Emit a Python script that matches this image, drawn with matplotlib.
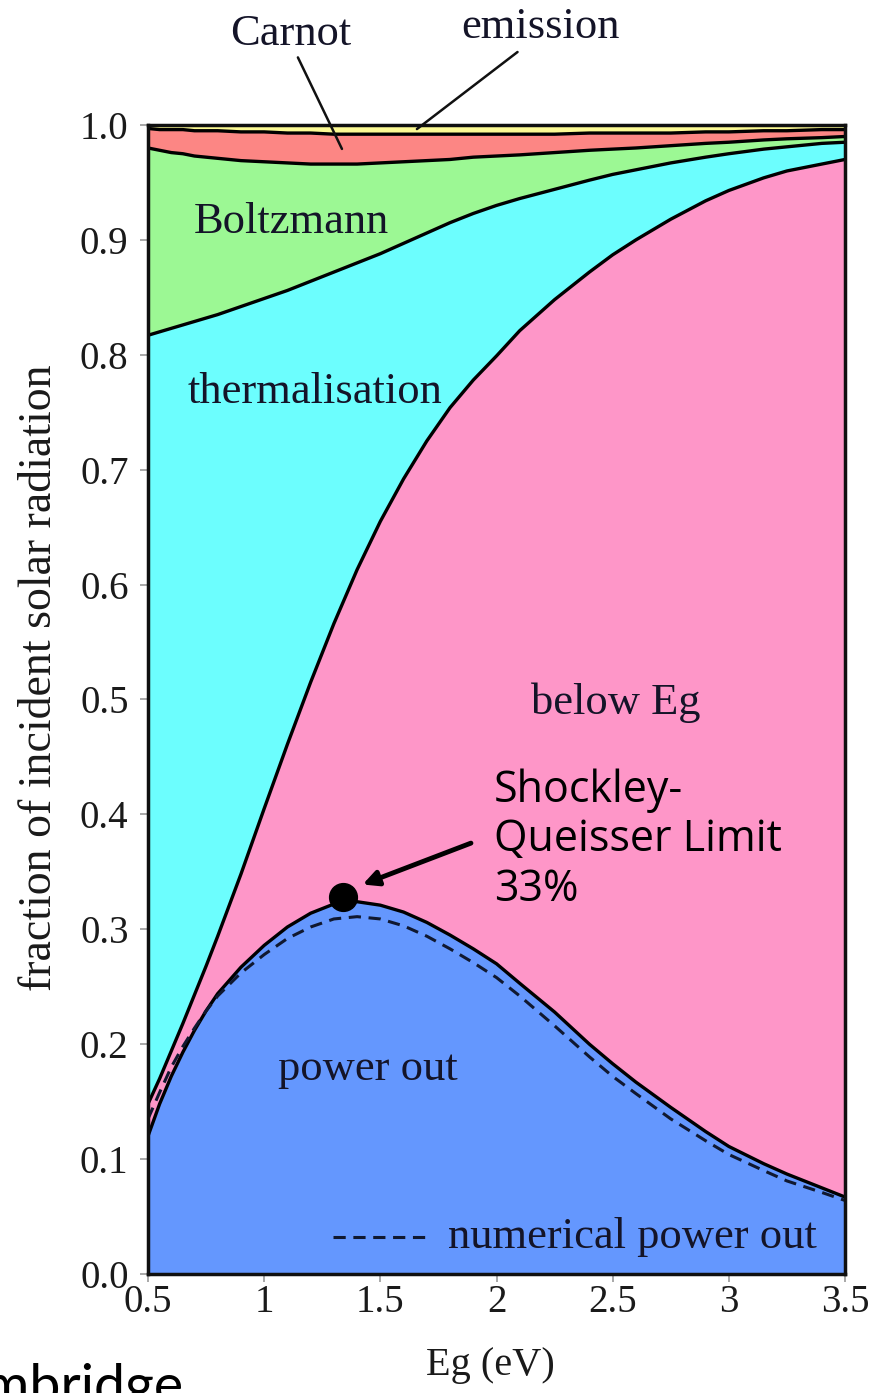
import matplotlib
matplotlib.use("Agg")
import matplotlib.pyplot as plt
import numpy as np

# ---- data ----
eg = [0.5, 0.55, 0.6, 0.65, 0.7, 0.75, 0.8, 0.9, 1.0, 1.1, 1.2, 1.3, 1.4, 1.5, 1.6,
      1.7, 1.8, 1.9, 2.0, 2.1, 2.25, 2.4, 2.5, 2.6, 2.75, 2.9, 3.0, 3.15, 3.25, 3.4, 3.5]

# cumulative boundaries (fraction of incident solar radiation)
power_out = [0.120, 0.148, 0.172, 0.193, 0.212, 0.229, 0.244, 0.267, 0.286, 0.302,
             0.314, 0.322, 0.324, 0.321, 0.315, 0.306, 0.295, 0.283, 0.270, 0.253,
             0.228, 0.200, 0.183, 0.167, 0.145, 0.124, 0.111, 0.096, 0.087, 0.075, 0.067]
numerical_power_out = [0.135, 0.158, 0.180, 0.198, 0.214, 0.229, 0.242, 0.262, 0.278,
                       0.292, 0.302, 0.309, 0.311, 0.309, 0.303, 0.294, 0.283, 0.271,
                       0.258, 0.242, 0.216, 0.189, 0.172, 0.157, 0.135, 0.116, 0.104,
                       0.090, 0.081, 0.071, 0.064]
below_eg_top = [0.148, 0.170, 0.194, 0.218, 0.243, 0.268, 0.294, 0.348, 0.405, 0.461,
                0.515, 0.566, 0.613, 0.655, 0.692, 0.725, 0.754, 0.778, 0.799, 0.821,
                0.848, 0.872, 0.887, 0.900, 0.918, 0.934, 0.943, 0.954, 0.960, 0.966, 0.970]
thermal_top = [0.817, 0.820, 0.823, 0.826, 0.829, 0.832, 0.835, 0.842, 0.849, 0.856,
               0.864, 0.872, 0.880, 0.888, 0.897, 0.906, 0.915, 0.923, 0.930, 0.936,
               0.944, 0.952, 0.957, 0.961, 0.967, 0.972, 0.975, 0.979, 0.981, 0.984, 0.985]
boltzmann_top = [0.980, 0.978, 0.976, 0.975, 0.973, 0.972, 0.971, 0.969, 0.968, 0.967,
                 0.966, 0.966, 0.966, 0.967, 0.968, 0.969, 0.970, 0.972, 0.973, 0.974,
                 0.976, 0.978, 0.979, 0.980, 0.982, 0.984, 0.985, 0.987, 0.988, 0.989, 0.990]
carnot_top = [0.997, 0.996, 0.996, 0.996, 0.995, 0.995, 0.995, 0.994, 0.994, 0.993,
              0.993, 0.992, 0.992, 0.992, 0.992, 0.992, 0.992, 0.992, 0.992, 0.992,
              0.992, 0.993, 0.993, 0.993, 0.993, 0.994, 0.994, 0.995, 0.995, 0.996, 0.996]
emission_top = [1.0] * len(eg)

sq_limit = (1.34, 0.328)

region_names = ["power out", "below Eg", "thermalisation", "Boltzmann", "Carnot", "emission"]
region_colors = ["#6497fe", "#fe96c8", "#6cfefe", "#9cf894", "#fc8684", "#fcfa94"]

xticks = [0.5, 1, 1.5, 2, 2.5, 3, 3.5]
xticklabels = ["0.5", "1", "1.5", "2", "2.5", "3", "3.5"]
yticks = [0.0, 0.1, 0.2, 0.3, 0.4, 0.5, 0.6, 0.7, 0.8, 0.9, 1.0]
yticklabels = ["0.0", "0.1", "0.2", "0.3", "0.4", "0.5", "0.6", "0.7", "0.8", "0.9", "1.0"]

# ---- figure ----
W, H = 871, 1393
fig = plt.figure(figsize=(W / 100, H / 100), dpi=100)
ax = fig.add_axes([148 / W, 1 - 1274 / H, (845 - 148) / W, (1274 - 125) / H])

serif = ["Liberation Serif", "DejaVu Serif"]
txtc = "#141428"

bounds = [np.zeros(len(eg)), power_out, below_eg_top, thermal_top, boltzmann_top,
          carnot_top, emission_top]
for i, c in enumerate(region_colors):
    ax.fill_between(eg, bounds[i], bounds[i + 1], color=c, lw=0, zorder=1)
for b in bounds[1:6]:
    ax.plot(eg, b, color="black", lw=2.4, zorder=3, solid_joinstyle="round")
ax.plot(eg, numerical_power_out, color="#101830", lw=2.2, ls=(0, (4, 2.5)), zorder=3)

ax.set_xlim(0.5, 3.5)
ax.set_ylim(0.0, 1.0)
ax.set_xticks(xticks)
ax.set_xticklabels(xticklabels)
ax.set_yticks(yticks)
ax.set_yticklabels(yticklabels)
for s in ax.spines.values():
    s.set_linewidth(2.5)
    s.set_color("#101010")
    s.set_zorder(5)
ax.tick_params(direction="out", length=6, width=1.2, color="#999999",
               labelsize=28, labelcolor="#1a1a1a")
ax.tick_params(axis="x", pad=1)
ax.tick_params(axis="y", pad=8)
for lab in ax.get_xticklabels() + ax.get_yticklabels():
    lab.set_family(serif)

fig.text(40 / W, 1 - 678 / H, "fraction of incident solar radiation", rotation=90,
         ha="center", va="center", fontsize=33, family=serif, color="#1a1a1a")
fig.text(490 / W, 1 - 1365 / H, "Eg (eV)", ha="center", va="center", fontsize=29,
         family=serif, color="#1a1a1a")

# region labels
lab_pos = {"power out": (1.445, 0.178), "below Eg": (2.515, 0.497),
           "thermalisation": (1.22, 0.768), "Boltzmann": (1.117, 0.916)}
for name, (x, y) in lab_pos.items():
    ax.text(x, y, name, ha="center", va="center", fontsize=32, family=serif,
            color=txtc, zorder=6)

# Carnot / emission labels with leader lines
ax.text(1.113, 1.0696, "Carnot", ha="center", va="baseline", fontsize=32, family=serif,
        color=txtc, clip_on=False)
ax.text(2.19, 1.0757, "emission", ha="center", va="baseline", fontsize=32, family=serif,
        color=txtc, clip_on=False)
ax.annotate("", xy=(1.34, 0.977), xytext=(1.14, 1.061),
            arrowprops=dict(arrowstyle="-", lw=1.8, color="#111111"), annotation_clip=False)
ax.annotate("", xy=(1.648, 0.995), xytext=(2.10, 1.065),
            arrowprops=dict(arrowstyle="-", lw=1.8, color="#111111"), annotation_clip=False)

# numerical power out key
ax.plot([0.265, 0.405], [0.032, 0.032], transform=ax.transAxes, color="#101830",
        lw=2.2, ls=(0, (4, 2.5)), zorder=6)
ax.text(0.430, 0.032, "numerical power out", transform=ax.transAxes, ha="left",
        va="center", fontsize=32, family=serif, color=txtc, zorder=6)

# Shockley-Queisser limit
ax.plot([sq_limit[0]], [sq_limit[1]], "o", color="black", ms=20, zorder=7)
ax.annotate("", xy=(1.424, 0.339), xytext=(1.89, 0.375),
            arrowprops=dict(arrowstyle="-|>,head_length=0.9,head_width=0.45", lw=3.5,
                            color="black", shrinkA=0, shrinkB=0), zorder=7)
ax.text(1.989, 0.440, "Shockley-\nQueisser Limit\n33%", ha="left", va="top",
        fontsize=31, family=["Open Sans", "DejaVu Sans"], color="black",
        linespacing=1.15, zorder=7)

# partially cropped caption at bottom-left
fig.text(183 / W, -10 / H, "Cambridge", ha="right", va="baseline", fontsize=40,
         family=["Lato", "DejaVu Sans"], color="black")

fig.savefig("out.png", dpi=100)
